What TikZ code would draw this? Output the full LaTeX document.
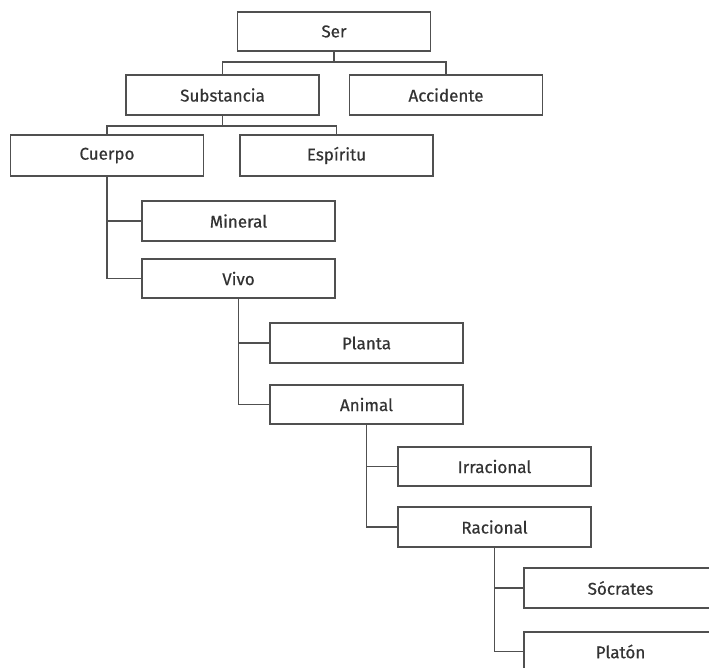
\documentclass[tikz,border=0pt]{standalone}
\usepackage{fontspec}
\newfontfamily\lblfont{Fira Sans}[FakeBold=0.5]
\definecolor{boxline}{HTML}{505050}
\definecolor{boxtext}{HTML}{333333}
\begin{document}
\begin{tikzpicture}[x=1pt,y=-1pt,
  cat/.style={draw=boxline, line width=1.6pt, fill=white, minimum width=193pt, minimum height=40pt,
    inner sep=0pt, text=boxtext, font=\lblfont\fontsize{17}{20}\selectfont},
  link/.style={draw=boxline, line width=1.6pt}]
\useasboundingbox (0,0) rectangle (709,668);
\clip (0,0) rectangle (709,668);
\fill[white] (0,0) rectangle (709,668);
\node[cat, minimum height=39pt] (ser) at (334,31.5) {Ser};
\node[cat] (sub) at (222.5,95) {Substancia};
\node[cat] (acc) at (446,95) {Accidente};
\node[cat, minimum height=41pt] (cue) at (107,155.5) {Cuerpo};
\node[cat, minimum height=41pt] (esp) at (336.5,155.5) {Espíritu};
\node[cat] (min) at (238.5,221) {Mineral};
\node[cat, minimum height=39pt] (viv) at (238.5,278.5) {Vivo};
\node[cat] (pla) at (366.5,343) {Planta};
\node[cat, minimum height=39pt] (ani) at (366.5,404.5) {Animal};
\node[cat, minimum height=39pt] (irr) at (494.5,466.5) {Irracional};
\node[cat] (rac) at (494.5,527) {Racional};
\node[cat] (soc) at (620.5,588) {Sócrates};
\node[cat, minimum height=39pt] (plt) at (620.5,651.5) {Platón};
\coordinate (j1) at (334,62);
\coordinate (j2) at (222.5,126);
\draw[link] (ser.south) -- (j1);
\draw[link] (sub.north) |- (j1) -| (acc.north);
\draw[link] (sub.south) -- (j2);
\draw[link] (cue.north) |- (j2) -| (esp.north);
\draw[link] (cue.south) |- (min.west);
\draw[link] (cue.south) |- (viv.west);
\draw[link] (viv.south) |- (pla.west);
\draw[link] (viv.south) |- (ani.west);
\draw[link] (ani.south) |- (irr.west);
\draw[link] (ani.south) |- (rac.west);
\draw[link] (rac.south) |- (soc.west);
\draw[link] (rac.south) |- (plt.west);
\end{tikzpicture}
\end{document}
